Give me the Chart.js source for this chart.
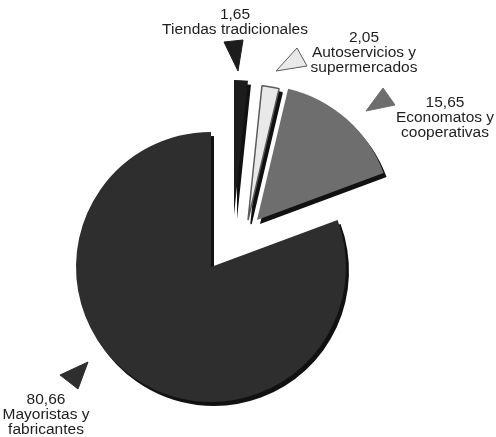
<!DOCTYPE html>
<html>
<head>
<meta charset="utf-8">
<script src="https://cdn.jsdelivr.net/npm/chart.js@4.4.1/dist/chart.umd.min.js"></script>
<style>
  html, body { margin: 0; padding: 0; background: #fff; }
  canvas { display: block; }
</style>
</head>
<body>
<canvas id="canales" width="496" height="437"></canvas>
<script>
// reparto de ventas por canal de distribución (%)
var canales = ["Tiendas tradicionales", "Autoservicios y supermercados", "Economatos y cooperativas", "Mayoristas y fabricantes"];
var porcentajes = [1.65, 2.05, 15.65, 80.66];
var lineasTexto = [["Tiendas tradicionales"], ["Autoservicios y", "supermercados"], ["Economatos y", "cooperativas"], ["Mayoristas y", "fabricantes"]];

var colores = ["#1c1c1c", "#e9e9e9", "#6e6e6e", "#2e2e2e"];
var bordes = ["#1c1c1c", "#5a5a5a", "#6e6e6e", "#2e2e2e"];
// porciones separadas del centro (dx, dy en px)
var explosion = [[23, -52], [37, -47], [46, -47], [0, 0]];

// sitio de cada rótulo y su triángulo indicador
var rotulos = [
  { x: 235, y: 15, tri: [[224, 42], [243, 40], [238, 71]] },
  { x: 364, y: 38, tri: [[297, 48], [307, 66], [276, 71]] },
  { x: 445, y: 103, tri: [[383, 88], [395, 105], [366, 111]] },
  { x: 46, y: 400, tri: [[88, 362], [78, 389], [60, 375]] }
];

function valorTexto(v) {
  return v.toFixed(2).replace(".", ",");
}

var separar = {
  id: "separar",
  afterDatasetsUpdate: function(chart) {
    chart.getDatasetMeta(0).data.forEach(function(arco, i) {
      arco.x += explosion[i][0];
      arco.y += explosion[i][1];
    });
  }
};

// sombra plana bajo cada porción, dibujada antes que las porciones
var sombra = {
  id: "sombra",
  beforeDatasetsDraw: function(chart) {
    var ctx = chart.ctx;
    ctx.save();
    ctx.translate(3, 4);
    chart.getDatasetMeta(0).data.forEach(function(arco) {
      var op = arco.options;
      arco.options = Object.assign({}, op, { backgroundColor: "#111", borderColor: "#111" });
      arco.draw(ctx);
      arco.options = op;
    });
    ctx.restore();
  }
};

var textos = {
  id: "textos",
  afterDraw: function(chart) {
    var ctx = chart.ctx;
    ctx.save();
    rotulos.forEach(function(r, i) {
      ctx.beginPath();
      ctx.moveTo(r.tri[0][0], r.tri[0][1]);
      ctx.lineTo(r.tri[1][0], r.tri[1][1]);
      ctx.lineTo(r.tri[2][0], r.tri[2][1]);
      ctx.closePath();
      ctx.fillStyle = colores[i];
      ctx.fill();
      ctx.lineWidth = 1;
      ctx.strokeStyle = bordes[i];
      ctx.stroke();

      ctx.fillStyle = "#1e1e1e";
      ctx.font = "15.5px 'Liberation Sans', Arial, sans-serif";
      ctx.textAlign = "center";
      ctx.textBaseline = "middle";
      var lineas = [valorTexto(porcentajes[i])].concat(lineasTexto[i]);
      lineas.forEach(function(t, k) {
        ctx.fillText(t, r.x, r.y + k * 15);
      });
    });
    ctx.restore();
  }
};

new Chart(document.getElementById("canales"), {
  type: "pie",
  data: {
    labels: canales,
    datasets: [{
      data: porcentajes,
      backgroundColor: colores,
      borderColor: bordes,
      borderWidth: [0, 1.5, 0, 0],
      hoverOffset: 0,
      radius: 135
    }]
  },
  options: {
    responsive: false,
    animation: false,
    events: [],
    layout: { padding: { left: 0, right: 74, top: 97, bottom: 0 } },
    plugins: {
      legend: { display: false },
      tooltip: { enabled: false }
    }
  },
  plugins: [separar, sombra, textos]
});
</script>
</body>
</html>
